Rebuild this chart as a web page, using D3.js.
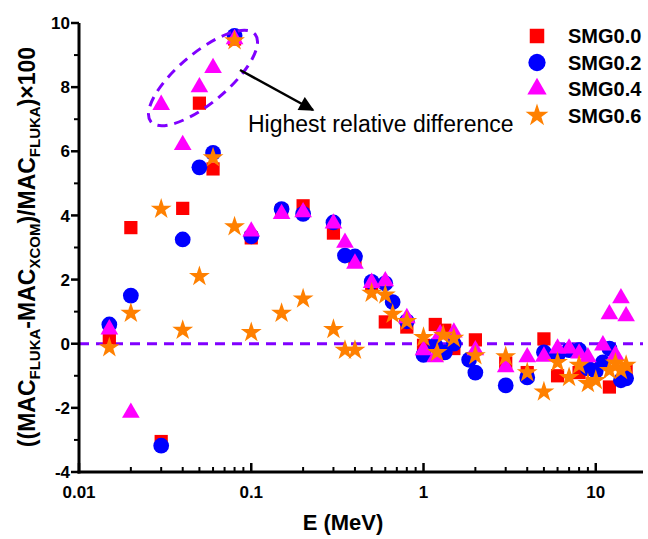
<!DOCTYPE html>
<html>
<head>
<meta charset="utf-8">
<script src="https://cdn.jsdelivr.net/npm/d3@7"></script>
<style>
  body { margin: 0; background: #fff; }
  text { font-family: "Liberation Sans", Arial, sans-serif; }
</style>
</head>
<body>
<div id="chart"></div>
<script>
var width = 648,
    height = 539;

// energies (MeV) and relative differences for each sample
var energy00 = [0.015, 0.02, 0.03, 0.04, 0.05, 0.06, 0.08, 0.1, 0.15, 0.2, 0.3, 0.4, 0.5, 0.6, 0.8, 1, 1.17, 1.33, 1.5, 2, 3, 4, 5, 6, 8, 10, 12, 15];
var smg00 = [0.18, 3.62, -3.05, 4.22, 7.5, 5.45, 9.5, 3.3, 4.15, 4.3, 3.45, 2.6, 1.85, 0.68, 0.52, -0.05, 0.6, 0.42, -0.15, 0.12, -0.6, -0.9, 0.15, -1.0, -0.9, -0.8, -1.35, -0.85];

var energy02 = [0.015, 0.02, 0.03, 0.04, 0.05, 0.06, 0.08, 0.1, 0.15, 0.2, 0.3, 0.35, 0.4, 0.5, 0.6, 0.662, 0.8, 1, 1.17, 1.33, 1.5, 1.84, 2, 3, 4, 5, 6, 7, 8, 9, 10, 11, 12, 14, 15];
var smg02 = [0.6, 1.5, -3.18, 3.25, 5.5, 5.95, 9.6, 3.35, 4.2, 4.05, 3.78, 2.75, 2.72, 1.93, 1.88, 1.3, 0.7, -0.35, -0.05, -0.27, 0.0, -0.5, -0.9, -1.3, -1.05, -0.27, -0.36, -0.2, -0.2, -0.77, -0.85, -0.58, -0.15, -1.14, -1.08];

var energy04 = [0.015, 0.02, 0.03, 0.04, 0.05, 0.06, 0.08, 0.1, 0.15, 0.2, 0.3, 0.35, 0.4, 0.5, 0.6, 0.8, 1, 1.17, 1.25, 1.5, 2, 3, 4, 5, 6, 7, 8, 9, 11, 12, 13, 14, 15];
var smg04 = [0.45, -2.15, 7.45, 6.2, 8.0, 8.6, 9.5, 3.5, 4.05, 4.1, 3.75, 3.15, 2.5, 1.9, 1.95, 0.8, -0.2, -0.42, 0.3, 0.35, -0.2, -0.73, -0.42, -0.4, -0.15, -0.15, -0.3, -0.42, -0.05, 0.92, -0.35, 1.42, 0.86];

var energy06 = [0.015, 0.02, 0.03, 0.04, 0.05, 0.06, 0.08, 0.08, 0.1, 0.15, 0.2, 0.3, 0.35, 0.4, 0.5, 0.6, 0.662, 0.8, 1, 1.2, 1.3, 1.5, 2, 3, 4, 5, 6, 7, 8, 9, 10, 12, 13, 14, 15];
var smg06 = [-0.12, 0.95, 4.2, 0.42, 2.1, 5.8, 9.45, 3.65, 0.35, 0.95, 1.4, 0.45, -0.2, -0.2, 1.58, 1.52, 0.92, 0.7, 0.2, -0.27, 0.27, 0.17, -0.37, -0.4, -0.9, -1.5, -0.58, -1.05, -0.67, -1.24, -1.14, -0.83, -0.6, -0.83, -0.67];

var seriesNames = ['SMG0.0', 'SMG0.2', 'SMG0.4', 'SMG0.6'];
var seriesColors = ['#ff0000', '#0000ff', '#ff00ff', '#ff8000'];
var seriesSymbols = [d3.symbolSquare, d3.symbolCircle, d3.symbolTriangle, d3.symbolStar];
var symbolSizes = [175, 195, 135, 135];

var xTicks = [0.01, 0.1, 1, 10];
var xTickLabels = ['0.01', '0.1', '1', '10'];
var yTicks = [-4, -2, 0, 2, 4, 6, 8, 10];

var series = [
    {name: seriesNames[0], e: energy00, v: smg00},
    {name: seriesNames[1], e: energy02, v: smg02},
    {name: seriesNames[2], e: energy04, v: smg04},
    {name: seriesNames[3], e: energy06, v: smg06}
];

var x = d3.scaleLog().domain([0.01, 18.8]).range([79, 643]);
var y = d3.scaleLinear().domain([-4, 10]).range([472, 23]);

var svg = d3.select('#chart').append('svg')
    .attr('width', width)
    .attr('height', height);
svg.append('rect').attr('width', width).attr('height', height).attr('fill', '#fff');

// zero reference line
svg.append('line')
    .attr('x1', x(0.01)).attr('x2', x.range()[1])
    .attr('y1', y(0)).attr('y2', y(0))
    .attr('stroke', '#8000ff')
    .attr('stroke-width', 3)
    .attr('stroke-dasharray', '10,7');

// points
series.forEach(function(s, i) {
    var pts = s.e.map(function(e, j) { return {e: e, v: s.v[j]}; });
    svg.append('g').selectAll('path')
        .data(pts)
      .enter().append('path')
        .attr('transform', function(d) { return 'translate(' + x(d.e) + ',' + y(d.v) + ')'; })
        .attr('d', d3.symbol().type(seriesSymbols[i]).size(symbolSizes[i]))
        .attr('fill', seriesColors[i]);
});

// axes
var minorX = [];
[0.01, 0.1, 1, 10].forEach(function(dec) {
    for (var k = 2; k <= 9; k++) if (dec * k <= x.domain()[1]) minorX.push(dec * k);
});
var xAxis = svg.append('g').attr('transform', 'translate(0,' + y(-4) + ')');
xAxis.selectAll('.minor').data(minorX).enter().append('line')
    .attr('x1', function(d) { return x(d); }).attr('x2', function(d) { return x(d); })
    .attr('y1', 0).attr('y2', -5)
    .attr('stroke', '#000').attr('stroke-width', 2);
xAxis.selectAll('.major').data(xTicks).enter().append('line')
    .attr('x1', function(d) { return x(d); }).attr('x2', function(d) { return x(d); })
    .attr('y1', 0).attr('y2', -9)
    .attr('stroke', '#000').attr('stroke-width', 2.5);
xAxis.append('line')
    .attr('x1', x.range()[0] - 1.5).attr('x2', x.range()[1])
    .attr('stroke', '#000').attr('stroke-width', 3);
xAxis.selectAll('.lab').data(xTicks).enter().append('text')
    .attr('x', function(d) { return x(d); })
    .attr('y', 26)
    .attr('text-anchor', 'middle')
    .attr('font-size', 17).attr('font-weight', 'bold')
    .text(function(d, i) { return xTickLabels[i]; });

var minorY = d3.range(-3, 10, 2);
var yAxis = svg.append('g').attr('transform', 'translate(' + x(0.01) + ',0)');
yAxis.selectAll('.minor').data(minorY).enter().append('line')
    .attr('x1', 0).attr('x2', -5)
    .attr('y1', function(d) { return y(d); }).attr('y2', function(d) { return y(d); })
    .attr('stroke', '#000').attr('stroke-width', 2);
yAxis.selectAll('.major').data(yTicks).enter().append('line')
    .attr('x1', 0).attr('x2', -8)
    .attr('y1', function(d) { return y(d); }).attr('y2', function(d) { return y(d); })
    .attr('stroke', '#000').attr('stroke-width', 2.5);
yAxis.append('line')
    .attr('y1', y(10)).attr('y2', y(-4) + 1.5)
    .attr('stroke', '#000').attr('stroke-width', 3);
yAxis.selectAll('.lab').data(yTicks).enter().append('text')
    .attr('x', -9)
    .attr('y', function(d) { return y(d); })
    .attr('dy', '0.36em')
    .attr('text-anchor', 'end')
    .attr('font-size', 17).attr('font-weight', 'bold')
    .text(function(d) { return d; });

// axis titles
svg.append('text')
    .attr('x', 343)
    .attr('y', 530)
    .attr('text-anchor', 'middle')
    .attr('font-size', 22).attr('font-weight', 'bold')
    .text('E (MeV)');

var yt = svg.append('text')
    .attr('transform', 'translate(35,' + 247 + ') rotate(-90)')
    .attr('text-anchor', 'middle')
    .attr('font-size', 23).attr('font-weight', 'bold');
[['((MAC', false], ['FLUKA', true], ['-MAC', false], ['XCOM', true], [')/MAC', false], ['FLUKA', true], [')\u00d7100', false]]
    .forEach(function(p) {
        var t = yt.append('tspan').text(p[0]);
        if (p[1]) t.attr('font-size', 15).attr('dy', 5);
        else t.attr('dy', -5);
    });
yt.select('tspan').attr('dy', 0);

// annotation
svg.append('ellipse')
    .attr('cx', 203).attr('cy', 78)
    .attr('rx', 68).attr('ry', 25)
    .attr('transform', 'rotate(-40,203,78)')
    .attr('fill', 'none')
    .attr('stroke', '#8000ff')
    .attr('stroke-width', 3)
    .attr('stroke-dasharray', '10,7');

svg.append('defs').append('marker')
    .attr('id', 'arrow')
    .attr('viewBox', '0 0 10 10')
    .attr('refX', 9).attr('refY', 5)
    .attr('markerWidth', 7).attr('markerHeight', 6)
    .attr('orient', 'auto')
  .append('path')
    .attr('d', 'M0,0L10,5L0,10z')
    .attr('fill', '#000');
svg.append('line')
    .attr('x1', 240).attr('y1', 70)
    .attr('x2', 313).attr('y2', 110)
    .attr('stroke', '#000').attr('stroke-width', 2.5)
    .attr('marker-end', 'url(#arrow)');

svg.append('text')
    .attr('x', 248).attr('y', 132)
    .attr('font-size', 23)
    .text('Highest relative difference');

// legend
var legend = svg.append('g').attr('transform', 'translate(537,36)');
series.forEach(function(s, i) {
    var g = legend.append('g').attr('transform', 'translate(0,' + (i * 26.5) + ')');
    g.append('path')
        .attr('d', d3.symbol().type(seriesSymbols[i]).size(symbolSizes[i] * 1.2))
        .attr('fill', seriesColors[i]);
    g.append('text')
        .attr('x', 31).attr('dy', '0.36em')
        .attr('font-size', 20).attr('font-weight', 'bold')
        .text(s.name);
});
</script>
</body>
</html>
